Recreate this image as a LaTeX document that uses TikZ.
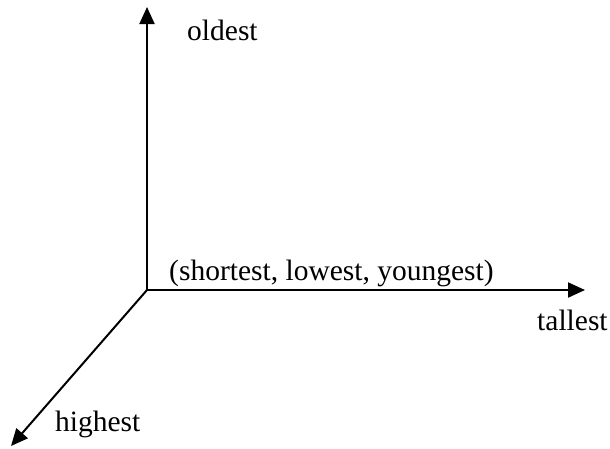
\documentclass[tikz,border=0pt]{standalone}
\usepackage{fontspec}
\setmainfont{Liberation Serif}
\usetikzlibrary{arrows.meta}
\begin{document}
\begin{tikzpicture}[x=1pt,y=-1pt,
  axis/.style={line width=2pt,-{Triangle[length=17pt,width=15pt]}},
  lbl/.style={anchor=base west,inner sep=0pt,font=\fontsize{29.5}{34}\selectfont}]
\useasboundingbox (0,0) rectangle (610,448);
\coordinate (o) at (147,290);
\coordinate (up) at (147,7);
\coordinate (right) at (585,290);
\coordinate (diag) at (11,446);
\draw[axis] (o) -- (up);
\draw[axis] (o) -- (right);
\draw[axis] (o) -- (diag);
\node[lbl] (oldest) at (187,40) {oldest};
\node[lbl] (origin) at (169,280) {(shortest, lowest, youngest)};
\node[lbl] (tallest) at (537,330) {tallest};
\node[lbl] (highest) at (55,431) {highest};
\end{tikzpicture}
\end{document}
